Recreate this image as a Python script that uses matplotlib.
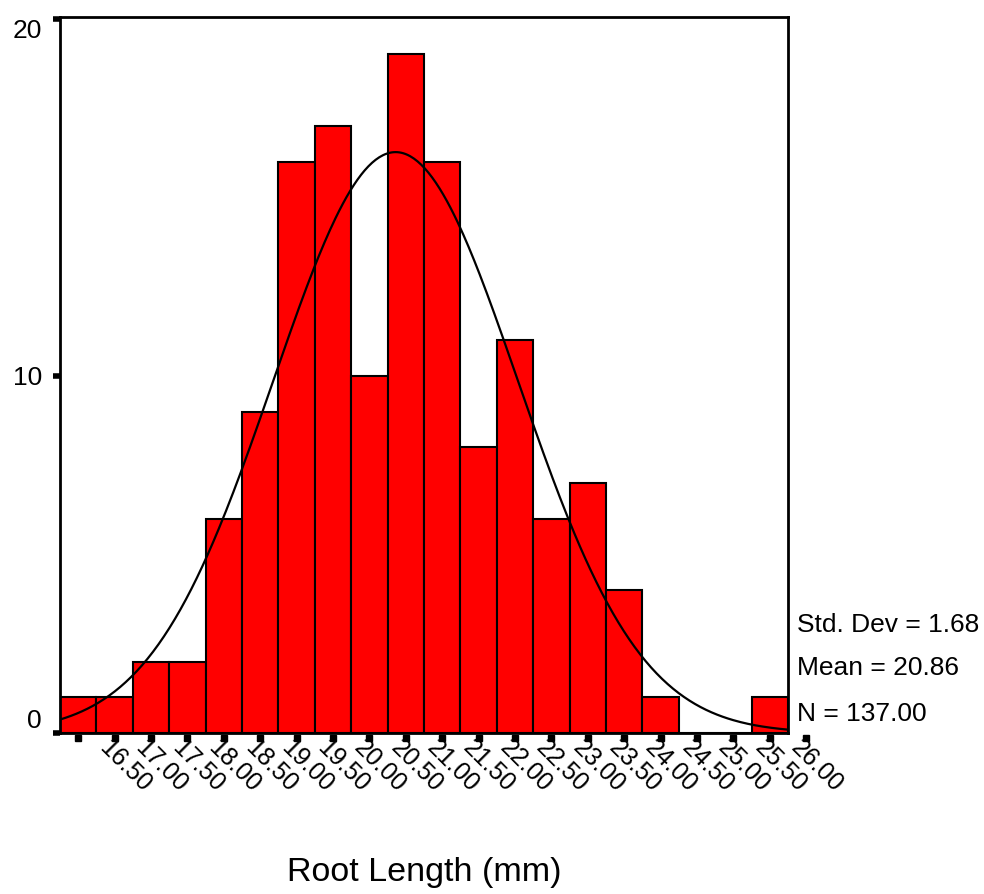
import numpy as np
import matplotlib
matplotlib.use('Agg')
import matplotlib.pyplot as plt

plt.rcParams['font.family'] = ['Liberation Sans', 'DejaVu Sans']

# bin centres as used by the fitted curve, counts
centros = [16.5, 17.0, 17.5, 18.0, 18.5, 19.0, 19.5, 20.0, 20.5, 21.0,
           21.5, 22.0, 22.5, 23.0, 23.5, 24.0, 24.5, 25.0, 25.5, 26.0]
contagens = [1, 1, 2, 2, 6, 9, 16, 17, 10, 19,
             16, 8, 11, 6, 7, 4, 1, 0, 0, 1]
rotulos = ['', '16.50', '17.00', '17.50', '18.00', '18.50', '19.00', '19.50',
           '20.00', '20.50', '21.00', '21.50', '22.00', '22.50', '23.00',
           '23.50', '24.00', '24.50', '25.00', '25.50', '26.00']
posicoes_rotulos = [16.5 + 0.5 * i for i in range(len(rotulos))]

media = 20.86
desvio = 1.68
n = 137
largura = 0.5

fig = plt.figure(figsize=(9.84, 8.94), dpi=100)
ax = fig.add_axes([60 / 984, 1 - 733 / 894, 728 / 984, 716 / 894])

ax.bar(centros, contagens, width=largura, color='#ff0000',
       edgecolor='black', linewidth=1.5, zorder=2)

xmin, xmax = 16.25, 26.25
xs = np.linspace(xmin, xmax, 400)
ys = n * largura / (desvio * np.sqrt(2 * np.pi)) * np.exp(-0.5 * ((xs - media) / desvio) ** 2)
ax.plot(xs, ys, color='black', linewidth=1.6, zorder=3)

ax.set_xlim(xmin, xmax)
ax.set_ylim(0, 20.05)

for s in ax.spines.values():
    s.set_linewidth(2)

ax.set_yticks([0, 10, 20])
ax.set_yticklabels(['0', '10', '20'], fontsize=19)
ax.tick_params(axis='y', direction='out', length=5, width=4, pad=8)
# SPSS puts the end labels slightly inside the range
ylabs = ax.get_yticklabels()
ylabs[0].set_va('bottom')
ylabs[2].set_va('top')

ax.set_xticks([])
for pos, txt in zip(posicoes_rotulos, rotulos):
    ax.plot([pos], [-0.14], marker='s', markersize=4, color='black',
            clip_on=False, transform=ax.transData, zorder=4)
    if txt:
        ax.annotate(txt, xy=(pos, 0), xycoords='data',
                    xytext=(-3, -3), textcoords='offset pixels',
                    rotation=-45, rotation_mode='anchor',
                    ha='left', va='top', fontsize=18, annotation_clip=False)

fig.text(424 / 984, 1 - 873 / 894, 'Root Length (mm)', fontsize=24.5,
         ha='center', va='center')

stats = ['Std. Dev = 1.68', 'Mean = 20.86', 'N = 137.00']
ys_px = [625, 668, 714]
for txt, yp in zip(stats, ys_px):
    fig.text(797 / 984, 1 - yp / 894, txt, fontsize=19, ha='left', va='center')

fig.savefig('out.png', dpi=100)
